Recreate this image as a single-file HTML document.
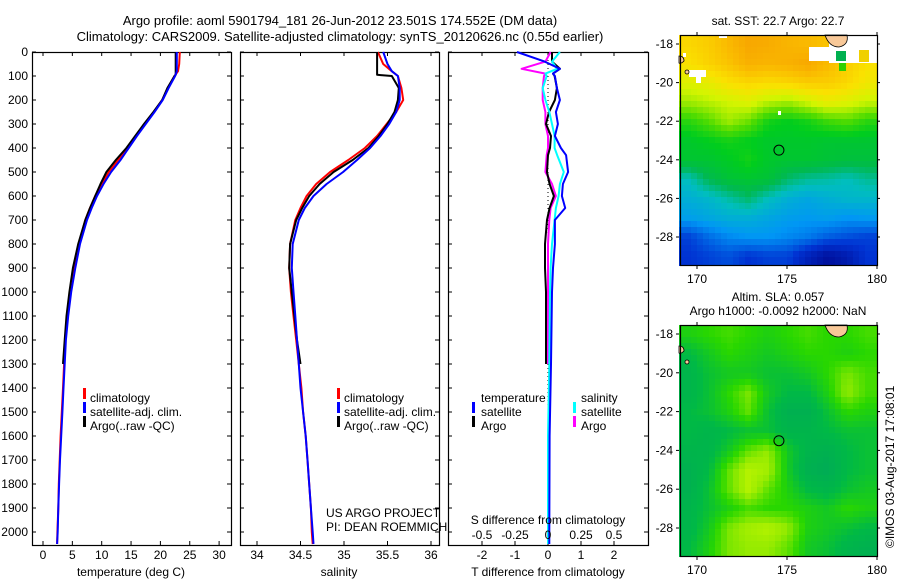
<!DOCTYPE html>
<html><head><meta charset="utf-8">
<style>
html,body{margin:0;padding:0;background:#fff;}
svg{display:block;font-family:"Liberation Sans",sans-serif;}
text{font-size:12px;fill:#000;}
</style></head>
<body>
<svg id="chart" width="900" height="580" viewBox="0 0 900 580" xmlns="http://www.w3.org/2000/svg">
<text x="340" y="25" text-anchor="middle" style="font-size:13px">Argo profile: aoml 5901794_181 26-Jun-2012 23.501S 174.552E (DM data)</text>
<text x="340" y="41" text-anchor="middle" style="font-size:13px">Climatology: CARS2009. Satellite-adjusted climatology: synTS_20120626.nc (0.55d earlier)</text>
<text x="778" y="25" text-anchor="middle">sat. SST: 22.7 Argo: 22.7</text>
<text x="778" y="301" text-anchor="middle">Altim. SLA: 0.057</text>
<text x="778" y="315" text-anchor="middle">Argo h1000: -0.0092 h2000: NaN</text>
<text transform="translate(894,548) rotate(-90)">©IMOS 03-Aug-2017 17:08:01</text>
<g id="g"></g>
</svg>
<script>
// ---------- data ----------
const depths=[0,50,80,100,150,200,250,300,350,400,450,500,550,600,650,700,800,900,1000,1100,1200,1300,1400,1500,1600,1700,1800,1900,2000,2050];
const tempClim=[23.3,23.2,23.0,22.4,21.3,20.3,18.9,17.3,15.8,14.3,12.8,11.2,10.0,8.9,8.0,7.2,6.1,5.3,4.6,4.1,3.8,3.6,3.4,3.2,3.0,2.85,2.7,2.6,2.45,2.4];
const tempSat=[22.8,22.8,22.8,22.5,21.4,20.4,19.0,17.5,16.0,14.6,13.2,11.6,10.3,9.2,8.3,7.5,6.3,5.5,4.8,4.3,3.9,3.7,3.5,3.3,3.1,2.9,2.75,2.6,2.5,2.4];
const argoDepths=[0,50,80,95,100,150,200,250,300,350,400,450,500,550,600,650,700,800,900,1000,1100,1200,1300];
const tempArgo=[22.6,22.6,22.6,22.6,22.4,21.2,20.3,18.8,17.2,15.7,14.2,12.4,10.8,9.8,8.9,8.0,7.2,6.0,5.1,4.5,4.0,3.7,3.4];
const salClim=[35.39,35.45,35.55,35.62,35.66,35.68,35.6,35.49,35.38,35.24,35.05,34.84,34.68,34.57,34.5,34.44,34.38,34.37,34.39,34.42,34.45,34.48,34.51,34.53,34.56,34.58,34.6,34.62,34.63,34.64];
const salSat=[35.45,35.5,35.55,35.62,35.64,35.64,35.6,35.52,35.42,35.3,35.15,34.99,34.8,34.65,34.55,34.48,34.41,34.4,34.42,34.44,34.46,34.48,34.5,34.53,34.56,34.58,34.6,34.62,34.64,34.65];
const salArgo=[35.38,35.38,35.38,35.38,35.55,35.63,35.62,35.58,35.5,35.4,35.28,35.1,34.88,34.72,34.6,34.52,34.45,34.38,34.37,34.4,34.43,34.46,34.5];
const diffDepths=[0,40,70,90,100,150,200,250,300,350,400,430,500,550,600,650,700,800,900,1000,1300,1600,2000,2050];
const dTsat=[-0.94,-0.1,0.36,0.15,0.21,0.27,0.36,0.24,0.3,0.21,0.39,0.55,0.61,0.45,0.42,0.52,0.21,0.21,0.15,0.12,0.09,0.05,0.04,0.04];
const dTargo=[0.12,0.12,0.36,0.15,0.2,0.27,0.21,0.03,-0.06,0.09,0.06,0.0,-0.03,0.05,0.18,0.05,-0.03,-0.09,-0.09,-0.06,-0.06,null,null,null];
const dSsat=[0.09,0.03,0.07,-0.02,-0.01,-0.04,-0.02,0.01,0.03,0.05,0.05,0.07,0.12,0.09,0.08,0.06,0.05,0.03,0.02,0.015,0.01,0.0,0.0,0.0];
const dSargo=[0.02,-0.02,-0.2,-0.02,-0.03,-0.04,-0.04,-0.02,-0.02,0.0,0.0,-0.01,-0.02,0.03,0.06,0.02,0.01,0.0,0.0,0.0,0.0,null,null,null];
const tempTicks=[0,5,10,15,20,25,30];
const salTicks=[34,34.5,35,35.5,36];
const tdTicks=[-2,-1,0,1,2];
const sdTicks=[-0.5,-0.25,0,0.25,0.5];
const depthTicks=[0,100,200,300,400,500,600,700,800,900,1000,1100,1200,1300,1400,1500,1600,1700,1800,1900,2000];
const lonTicks=[170,175,180];
const latTicks=[-18,-20,-22,-24,-26,-28];
const sstGrid=[
[.86,.88,.92,.96,.95,.93,.92,.90,.86,.84],
[.84,.87,.90,.94,.93,.94,.96,.92,.88,.84],
[.78,.80,.84,.86,.85,.86,.88,.88,.86,.82],
[.72,.74,.76,.78,.74,.72,.76,.80,.78,.75],
[.62,.66,.72,.68,.60,.58,.60,.64,.66,.62],
[.56,.58,.60,.58,.56,.56,.56,.55,.55,.55],
[.55,.55,.57,.60,.56,.55,.55,.54,.53,.53],
[.42,.50,.54,.55,.54,.48,.45,.44,.42,.45],
[.38,.40,.44,.48,.42,.38,.36,.38,.40,.40],
[.34,.36,.38,.38,.36,.34,.33,.34,.32,.33],
[.20,.26,.30,.32,.32,.30,.28,.24,.22,.20],
[.18,.20,.22,.18,.20,.20,.12,.06,.10,.18]];
const slaGrid=[
[.55,.60,.65,.60,.55,.60,.65,.60,.60,.65],
[.40,.50,.60,.55,.50,.55,.60,.60,.55,.60],
[.35,.45,.50,.50,.45,.45,.50,.60,.75,.65],
[.35,.45,.60,.75,.50,.40,.40,.55,.80,.65],
[.40,.45,.55,.70,.45,.30,.30,.45,.60,.55],
[.40,.35,.40,.45,.45,.35,.35,.40,.45,.45],
[.35,.35,.50,.70,.80,.50,.35,.30,.40,.45],
[.30,.40,.70,.90,.85,.50,.30,.25,.40,.45],
[.30,.45,.70,.90,.70,.55,.40,.35,.45,.50],
[.35,.45,.55,.65,.60,.60,.55,.50,.60,.55],
[.35,.50,.75,.85,.90,.80,.55,.50,.45,.40],
[.40,.55,.75,.80,.80,.70,.50,.45,.35,.30]];
const argoLon=174.552, argoLat=-23.501;

// ---------- helpers ----------
const NS="http://www.w3.org/2000/svg";
const G=document.getElementById('g');
function mk(tag,attrs,parent){const e=document.createElementNS(NS,tag);for(const k in attrs)e.setAttribute(k,attrs[k]);(parent||G).appendChild(e);return e;}
const yD=d=>52+d*0.24;
const xT=t=>43+t*5.87;
const xS=s=>257+(s-34)*87;
const xTd=v=>548+v*33;
const xSd=v=>548+v*132;
const BOT=545;

function panel(x0,x1,name){
  const r=mk('rect',{x:x0+.5,y:52.5,width:x1-x0,height:BOT-52,fill:'none',stroke:'#000','stroke-width':1.2});
  
  
  depthTicks.forEach(d=>{
    mk('line',{x1:x0,x2:x0+4,y1:yD(d),y2:yD(d),stroke:'#000'});
    mk('line',{x1:x1-4,x2:x1,y1:yD(d),y2:yD(d),stroke:'#000'});
  });
}
function xticks(ticks,fx,labY,lab){
  ticks.forEach(t=>{const x=fx(t);
    mk('line',{x1:x,x2:x,y1:52,y2:56,stroke:'#000'});
    mk('line',{x1:x,x2:x,y1:BOT-4,y2:BOT,stroke:'#000'});
    if(lab){const tx=mk('text',{x:x,y:labY,'text-anchor':'middle'});tx.textContent=String(t);
      
      }
  });
}
function line(xs,ds,fx,color,w,name,dash){
  let p='';let pen=false;
  for(let i=0;i<xs.length;i++){ if(xs[i]==null){pen=false;continue;}
    p+=(pen?'L':'M')+fx(xs[i]).toFixed(1)+','+yD(ds[i]).toFixed(1);pen=true;}
  const e=mk('path',{d:p,fill:'none',stroke:color,'stroke-width':w,'stroke-linejoin':'round'});
  if(dash)e.setAttribute('stroke-dasharray',dash);
  
  
}
function txt(x,y,s,name,anchor){const e=mk('text',{x:x,y:y,'text-anchor':anchor||'start'});e.textContent=s;
  
  return e;}
function legMark(x,y,c,name){const e=mk('rect',{x:x,y:y-10,width:3,height:11,fill:c});
  
  }

depthTicks.forEach(d=>{txt(28,yD(d)+4,String(d),'depth-tick-label','end');});

// panel 1 temperature
panel(32,231,'temperature-panel');
xticks(tempTicks,xT,559,true);
line(tempClim,depths,xT,'#f00',2,'temperature-climatology-line');
line(tempArgo,argoDepths,xT,'#000',2,'temperature-argo-line');
line(tempSat,depths,xT,'#00f',2,'temperature-satellite-line');
txt(131,576,'temperature (deg C)','temperature-axis-title','middle');
legMark(83,398,'#f00','legend-climatology-marker');txt(90,402,'climatology','legend-climatology');
legMark(83,412,'#00f','legend-satellite-marker');txt(90,416,'satellite-adj. clim.','legend-satellite-adj');
legMark(83,426,'#000','legend-argo-marker');txt(90,430,'Argo(..raw -QC)','legend-argo');

// panel 2 salinity
panel(240,439,'salinity-panel');
xticks(salTicks,xS,559,true);
line(salClim,depths,xS,'#f00',2,'salinity-climatology-line');
line(salArgo,argoDepths,xS,'#000',2,'salinity-argo-line');
line(salSat,depths,xS,'#00f',2,'salinity-satellite-line');
txt(339,576,'salinity','salinity-axis-title','middle');
legMark(337,398,'#f00','legend2-climatology-marker');txt(344,402,'climatology','legend2-climatology');
legMark(337,412,'#00f','legend2-satellite-marker');txt(344,416,'satellite-adj. clim.','legend2-satellite-adj');
legMark(337,426,'#000','legend2-argo-marker');txt(344,430,'Argo(..raw -QC)','legend2-argo');
txt(326,517,'US ARGO PROJECT','project-credit');
txt(326,531,'PI: DEAN ROEMMICH','pi-credit');

// panel 3 differences
panel(448,648,'difference-panel');
xticks(tdTicks,xTd,559,true);
mk('line',{x1:548,x2:548,y1:52,y2:BOT,stroke:'#000','stroke-dasharray':'1,3'});
line(dSargo,diffDepths,xSd,'#f0f',2,'salinity-diff-argo-line');
line(dTargo,diffDepths,xTd,'#000',2,'temperature-diff-argo-line');
line(dSsat,diffDepths,xSd,'#0ff',2,'salinity-diff-satellite-line');
line(dTsat,diffDepths,xTd,'#00f',2,'temperature-diff-satellite-line');
sdTicks.forEach(t=>{txt(xSd(t),539,String(t),'s-diff-tick-label','middle');});
txt(548,524,'S difference from climatology','s-diff-axis-title','middle');
txt(548,576,'T difference from climatology','t-diff-axis-title','middle');
txt(481,402,'temperature','legend3-temperature-header');
legMark(472,412,'#00f','legend3-t-satellite-marker');txt(481,416,'satellite','legend3-t-satellite');
legMark(472,426,'#000','legend3-t-argo-marker');txt(481,430,'Argo','legend3-t-argo');
txt(581,402,'salinity','legend3-salinity-header');
legMark(573,412,'#0ff','legend3-s-satellite-marker');txt(581,416,'satellite','legend3-s-satellite');
legMark(573,426,'#f0f','legend3-s-argo-marker');txt(581,430,'Argo','legend3-s-argo');

// ---------- maps ----------
const sstStops=[[0,[0,0,130]],[.18,[0,50,210]],[.32,[0,150,245]],[.42,[0,190,190]],[.5,[0,185,80]],[.58,[0,205,30]],[.66,[80,220,0]],[.76,[210,245,0]],[.84,[250,225,0]],[.92,[250,185,0]],[1,[245,150,0]]];
const slaStops=[[0,[0,150,110]],[.4,[0,185,70]],[.6,[40,215,0]],[.8,[150,235,0]],[1,[210,250,0]]];
function cmap(stops,v){for(let i=1;i<stops.length;i++){if(v<=stops[i][0]){const a=stops[i-1],b=stops[i];const f=(v-a[0])/(b[0]-a[0]);
  return 'rgb('+a[1].map((c,k)=>Math.round(c+(b[1][k]-c)*f)).join(',')+')';}}
  return 'rgb('+stops[stops.length-1][1].join(',')+')';}
function sample(grid,u,v){
  const R=grid.length,C=grid[0].length;const gx=Math.max(0,Math.min(C-1,u*C-.5)),gy=Math.max(0,Math.min(R-1,v*R-.5));
  const x0=Math.floor(gx),y0=Math.floor(gy),x1=Math.min(C-1,x0+1),y1=Math.min(R-1,y0+1);const fx=gx-x0,fy=gy-y0;
  return grid[y0][x0]*(1-fx)*(1-fy)+grid[y0][x1]*fx*(1-fy)+grid[y1][x0]*(1-fx)*fy+grid[y1][x1]*fx*fy;}
function drawMap(top,bot,grid,stops,name,sst){
  const L=679,R=877,W=R-L,H=bot-top;
  const xLon=lon=>697+(lon-170)*18;
  const y18=top+9, y28=y18+(bot-top-38);
  const yLat=lat=>y18+(-18-lat)*((y28-y18)/10);
  const g=mk('g',{});
  
  
  const step=6;
  for(let y=top;y<bot;y+=step)for(let x=L;x<R;x+=step){
    const v=sample(grid,(x-L+step/2)/W,(y-top+step/2)/H);
    const c=mk('rect',{x:x,y:y,width:Math.min(step,R-x),height:Math.min(step,bot-y),fill:cmap(stops,v)},g);
    
    
  }
  if(sst){
    mk('rect',{x:L+40,y:top,width:8,height:3,fill:'#fff'},g);
    mk('rect',{x:L+130,y:top+12,width:60,height:14,fill:'#fff'},g);
    mk('rect',{x:L+150,y:top,width:48,height:28,fill:'#fff'},g);
    mk('rect',{x:L+180,y:top+15,width:10,height:12,fill:'#f0d000'},g);
    mk('rect',{x:L+157,y:top+16,width:10,height:10,fill:'#00b050'},g);
    mk('rect',{x:L+160,y:top+28,width:7,height:8,fill:'#30d000'},g);
    mk('rect',{x:L+10,y:top+35,width:17,height:7,fill:'#fff'},g);
    mk('rect',{x:L+17,y:top+40,width:5,height:8,fill:'#fff'},g);
    mk('rect',{x:L+4,y:top+18,width:3,height:4,fill:'#fff'},g);
    mk('rect',{x:L+99,y:top+76,width:3,height:4,fill:'#fff'},g);
  }
  const isl=mk('path',{d:`M${L+146},${top} Q${L+150},${top+12} ${L+160},${top+12} Q${L+170},${top+10} ${L+168},${top} Z`,fill:'#f8c898',stroke:'#000','stroke-width':.8},g);
  
  
  mk('path',{d:`M${L},${top+21} q5,0 5,5 q-3,3 -5,2 Z`,fill:'#f8c898',stroke:'#000','stroke-width':.8},g);
  mk('circle',{cx:L+8,cy:top+37,r:2,fill:'#f8c898',stroke:'#000','stroke-width':.8},g);
  mk('rect',{x:L+1.5,y:top+.5,width:W-1,height:H-1,fill:'none',stroke:'#000','stroke-width':1.2},g);
  lonTicks.forEach(lon=>{const x=xLon(lon);
    mk('line',{x1:x,x2:x,y1:top,y2:top-3,stroke:'#000'},g);
    mk('line',{x1:x,x2:x,y1:bot,y2:bot+3,stroke:'#000'},g);
    txt(x,bot+17,String(lon),'map-lon-label','middle');});
  latTicks.forEach(lat=>{const y=yLat(lat);
    mk('line',{x1:L-3,x2:L,y1:y,y2:y,stroke:'#000'},g);
    mk('line',{x1:R,x2:R+3,y1:y,y2:y,stroke:'#000'},g);
    txt(L-6,y+4,String(lat),'map-lat-label','end');});
  const c=mk('circle',{cx:xLon(argoLon),cy:yLat(argoLat),r:5,fill:'none',stroke:'#000','stroke-width':1},g);
  
  
}
drawMap(35,266,sstGrid,sstStops,'sst-map',true);
drawMap(325,557,slaGrid,slaStops,'sla-map',false);
</script>
</body></html>
